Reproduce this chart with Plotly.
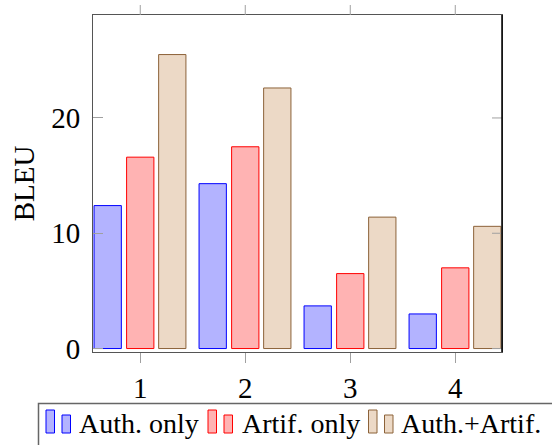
import plotly.graph_objects as go

# ---- data ----
categories = [1, 2, 3, 4]
series_names = ["Auth. only", "Artif. only", "Auth.+Artif."]
auth_only = [12.4, 14.3, 3.7, 3.0]
artif_only = [16.6, 17.5, 6.5, 7.0]
auth_artif = [25.5, 22.6, 11.4, 10.6]
y_tick_vals = [0, 10, 20]

# ---- styles ----
fills = ["#b3b3ff", "#ffb3b3", "#ecd9c6"]
borders = ["#0000ff", "#ff0000", "#8c6239"]
offsets = [-0.44, -0.13, 0.175]
bar_w = 0.26
FONT = "Liberation Serif"
FS = 29
LEG_FS = 28
TICK_COLOR = "#a0a0a0"
TICK_LEN = 10

W, H = 552, 445
ML, MR, MT, MB = 93, 50, 15, 93
PW, PH = W - ML - MR, H - MT - MB


def px(x):
    return (x - ML) / PW


def py(y):
    return (H - MB - y) / PH


fig = go.Figure()
for name, vals, fc, bc, off in zip(series_names, [auth_only, artif_only, auth_artif],
                                   fills, borders, offsets):
    fig.add_trace(go.Bar(
        x=categories, y=vals, name=name, width=bar_w, offset=off,
        marker=dict(color=fc, line=dict(color=bc, width=1)),
        showlegend=False, hoverinfo="skip",
    ))

fig.update_layout(
    width=W, height=H,
    margin=dict(l=ML, r=MR, t=MT, b=MB, autoexpand=False),
    plot_bgcolor="white", paper_bgcolor="white",
    barmode="overlay",
    font=dict(family=FONT, size=FS, color="black"),
    showlegend=False,
)
fig.update_xaxes(
    range=[0.55, 4.445], tickvals=categories, ticktext=[str(c) for c in categories],
    ticks="outside", ticklen=TICK_LEN, tickcolor=TICK_COLOR, tickwidth=1,
    showline=True, linecolor="#555555", linewidth=1, mirror=True,
    showgrid=False, zeroline=False, ticklabelstandoff=0,
)
fig.update_yaxes(
    range=[-0.3, 28.93], tickvals=y_tick_vals,
    ticks="inside", ticklen=TICK_LEN, tickcolor=TICK_COLOR, tickwidth=1,
    showline=True, linecolor="#555555", linewidth=1, mirror=True,
    showgrid=False, zeroline=False, ticklabelstandoff=6,
    title=dict(text="BLEU", standoff=8, font=dict(family=FONT, size=FS)),
)

# mirrored ticks: top (outside) and right (inside)
for c in categories:
    fig.add_shape(type="line", xref="x", yref="paper", x0=c, x1=c,
                  y0=1, y1=1 + TICK_LEN / PH, line=dict(color=TICK_COLOR, width=1))
for v in y_tick_vals:
    fig.add_shape(type="line", xref="paper", yref="y", x0=1 - TICK_LEN / PW, x1=1,
                  y0=v, y1=v, line=dict(color=TICK_COLOR, width=1), layer="above")

# right axis line in black
fig.add_shape(type="line", xref="paper", yref="paper", x0=1, x1=1, y0=0, y1=1,
              line=dict(color="black", width=1.5))

# ---- custom legend (pgfplots style, two bar icons per entry) ----
fig.add_shape(type="rect", xref="paper", yref="paper",
              x0=px(38.5), x1=px(620), y0=py(403.5), y1=py(470),
              line=dict(color="#666666", width=1.5), fillcolor="white", layer="above")
icon_x = [46, 208, 368.5]
text_x = [76.5, 239.5, 398.5]
for i, name in enumerate(series_names):
    x0 = icon_x[i]
    fig.add_shape(type="rect", xref="paper", yref="paper",
                  x0=px(x0), x1=px(x0 + 8.5), y0=py(433), y1=py(410),
                  line=dict(color=borders[i], width=1), fillcolor=fills[i], layer="above")
    fig.add_shape(type="rect", xref="paper", yref="paper",
                  x0=px(x0 + 16), x1=px(x0 + 24.5), y0=py(433), y1=py(415),
                  line=dict(color=borders[i], width=1), fillcolor=fills[i], layer="above")
    fig.add_annotation(text=name, xref="paper", yref="paper",
                       x=px(text_x[i]), y=py(423), xanchor="left", yanchor="middle",
                       showarrow=False, font=dict(family=FONT, size=LEG_FS, color="black"))

fig.write_html(
    "out.html",
    config={"displayModeBar": False},
    post_script="document.body.style.margin='0';document.body.style.overflow='hidden';",
)
